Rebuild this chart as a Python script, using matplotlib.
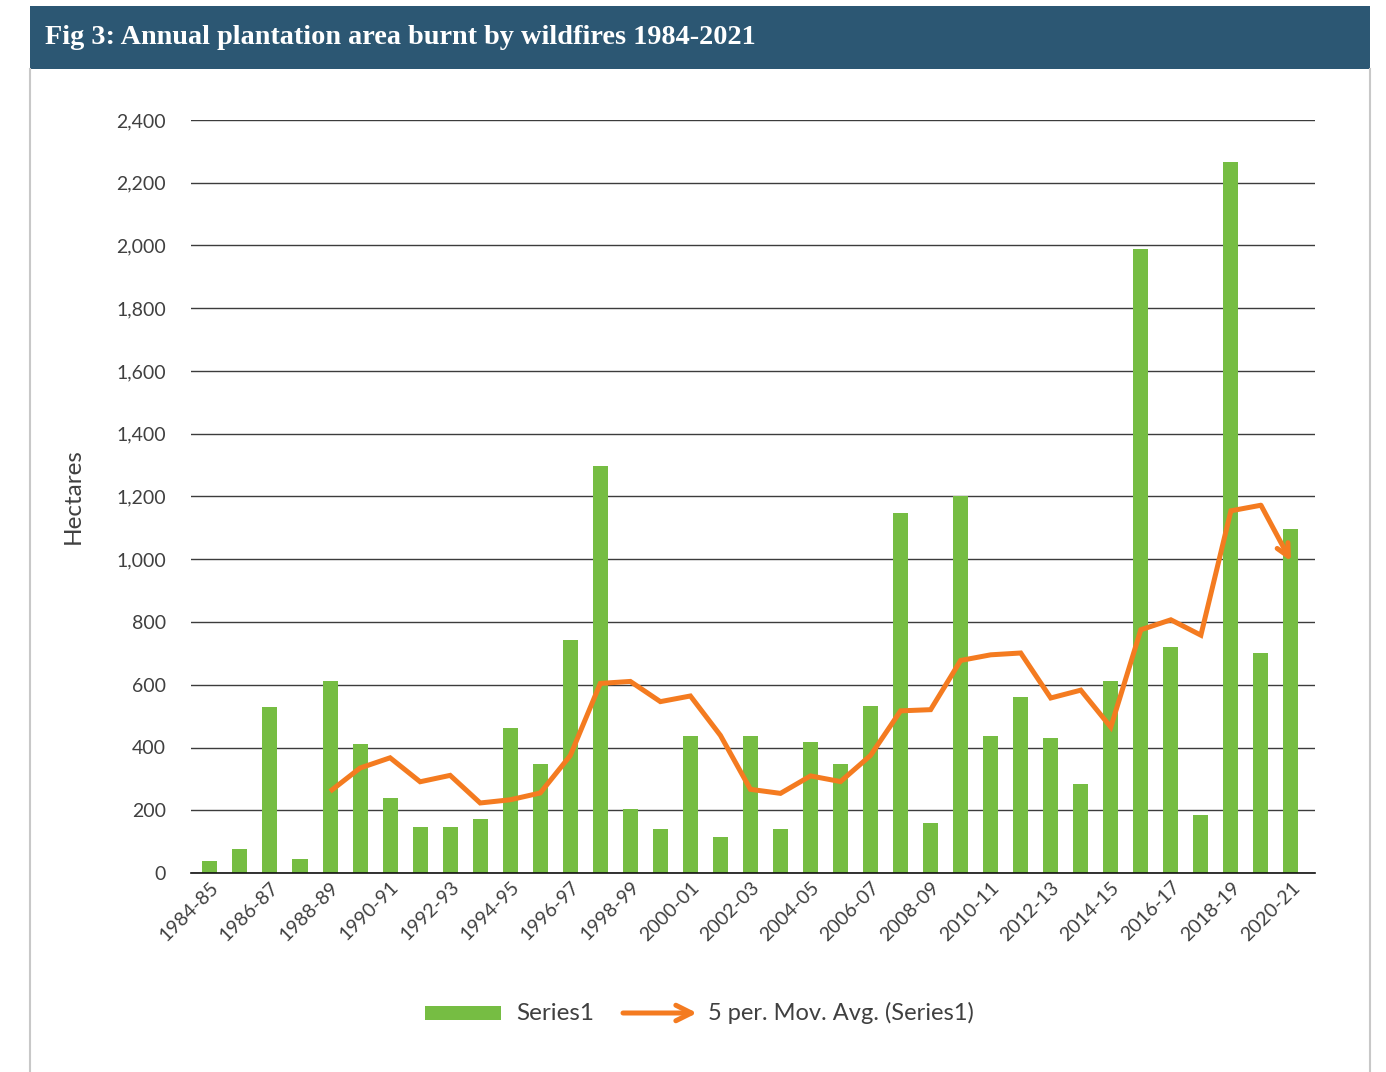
import numpy as np
import pandas as pd
import matplotlib
matplotlib.use("Agg")
import matplotlib.pyplot as plt
from matplotlib.patches import Rectangle, FancyArrowPatch
from matplotlib.lines import Line2D

# ---- data -------------------------------------------------------------
seasons = [f"{y}-{str(y + 1)[-2:]}" for y in range(1984, 2021)]
hectares = [38, 76, 529, 45, 612, 411, 239, 147, 147, 172,
            462, 347, 743, 1297, 204, 140, 437, 115, 437, 140,
            418, 347, 532, 1147, 159, 1202, 437, 561, 430, 284,
            612, 1989, 720, 185, 2266, 701, 1096]
y_ticks = [0, 200, 400, 600, 800, 1000, 1200, 1400, 1600, 1800, 2000, 2200, 2400]
title = "Fig 3: Annual plantation area burnt by wildfires 1984-2021"
bar_label = "Series1"
avg_label = "5 per. Mov. Avg. (Series1)"
y_label = "Hectares"

# ---- styles -----------------------------------------------------------
GREEN = "#76bd43"
ORANGE = "#f47b20"
BANNER = "#2c5773"
TEXT = "#404040"
GRID = "#3c3c3c"
FONT = ["Lato", "DejaVu Sans"]

W, H, DPI = 1386, 1072, 100
fig = plt.figure(figsize=(W / DPI, H / DPI), dpi=DPI)
fig.patch.set_facecolor("white")

def fx(px):
    return px / W

def fy(py):
    return 1 - py / H

# banner and panel frame
fig.patches.append(Rectangle((fx(30), fy(69)), fx(1340), fy(6) - fy(69),
                             transform=fig.transFigure, facecolor=BANNER,
                             edgecolor="none", zorder=0))
for xp in (30.5, 1369.5):
    fig.lines.append(Line2D([fx(xp), fx(xp)], [fy(69), 0], transform=fig.transFigure,
                            color="#c8c8c8", lw=1.5))

t = fig.text(fx(45), fy(38), title, color="white", fontsize=19,
             family="Liberation Serif", fontweight="bold", va="center", ha="left")
fig.canvas.draw()
bb = t.get_window_extent()
t.set_fontsize(19 * 712 / bb.width)

# ---- chart ------------------------------------------------------------
ax = fig.add_axes([fx(191), fy(873), fx(1315) - fx(191), fy(120) - fy(873)])
x = np.arange(len(seasons))
ax.bar(x, hectares, width=0.5, color=GREEN, zorder=2)

ma = pd.Series(hectares).rolling(5).mean().to_numpy()
ax.plot(x[:-1], ma[:-1], color=ORANGE, lw=3.6, solid_joinstyle="miter",
        solid_capstyle="butt", zorder=3)
ax.annotate("", xy=(x[-1], ma[-1]), xytext=(x[-2], ma[-2]),
            arrowprops=dict(arrowstyle="->", color=ORANGE, lw=3.6,
                            shrinkA=0, shrinkB=0, mutation_scale=22),
            zorder=3)

ax.set_xlim(-0.63, 36.8)
ax.set_ylim(0, 2400)
ax.set_yticks(y_ticks)
ax.set_yticklabels([f"{v:,}" for v in y_ticks], fontsize=14, color=TEXT,
                   family=FONT)
ax.yaxis.grid(True, color=GRID, lw=1.0, zorder=1)
ax.set_axisbelow(True)
ax.tick_params(axis="y", length=0, pad=18)
ax.tick_params(axis="x", length=0, pad=4)
ax.set_xticks(x[::2])
ax.set_xticklabels(seasons[::2], rotation=45, ha="right", rotation_mode="anchor",
                   fontsize=14, color=TEXT, family=FONT)
for s in ("left", "right", "top"):
    ax.spines[s].set_visible(False)
ax.spines["bottom"].set_color("#111111")
ax.spines["bottom"].set_linewidth(1.2)
ax.spines["bottom"].set_zorder(4)

fig.text(fx(73), fy(496), y_label, rotation=90, fontsize=17.5, color=TEXT,
         family=FONT, ha="center", va="center")

# ---- legend -----------------------------------------------------------
ly = fy(1013)
fig.patches.append(Rectangle((fx(425), ly - 7 / H), fx(76), 14 / H,
                             transform=fig.transFigure, facecolor=GREEN,
                             edgecolor="none"))
fig.text(fx(516), ly, bar_label, fontsize=17.5, color=TEXT, family=FONT,
         ha="left", va="center")
fig.patches.append(FancyArrowPatch(
    (fx(623), ly), (fx(697), ly), transform=fig.transFigure,
    arrowstyle="->", color=ORANGE, lw=3.6, mutation_scale=28,
    shrinkA=0, shrinkB=0))
fig.text(fx(708), ly, avg_label, fontsize=17, color=TEXT, family=FONT,
         ha="left", va="center")

fig.savefig("out.png", dpi=DPI, facecolor="white")
